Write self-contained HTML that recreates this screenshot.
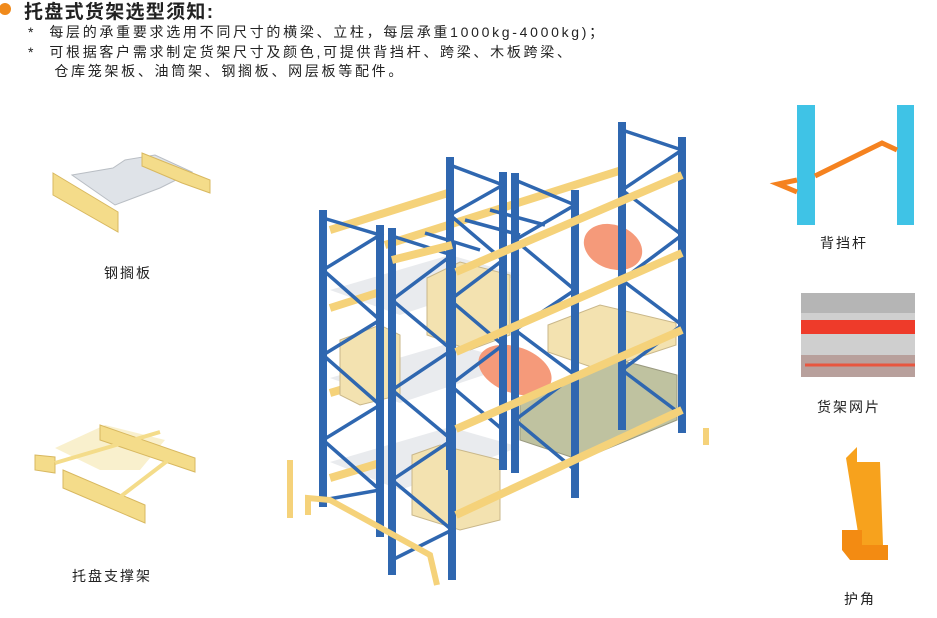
<!DOCTYPE html>
<html><head><meta charset="utf-8"><style>
body{margin:0;width:937px;height:618px;background:#fff;overflow:hidden;position:relative;font-family:"Liberation Sans","Noto Sans CJK SC",sans-serif;color:#222}
.t{position:absolute;white-space:nowrap}
</style></head><body>
<div class="t" style="left:-1px;top:3px;width:12px;height:12px;border-radius:50%;background:#f08a1c"></div>
<div class="t" style="left:24px;top:-3px;font-size:19px;font-weight:bold;letter-spacing:1.3px;color:#222">托盘式货架选型须知:</div>
<div class="t" style="left:28px;top:23px;font-size:14px;letter-spacing:2.7px;line-height:19.5px">*&nbsp;&nbsp;每层的承重要求选用不同尺寸的横梁、立柱，每层承重1000kg-4000kg)；<br>*&nbsp;&nbsp;可根据客户需求制定货架尺寸及颜色,可提供背挡杆、跨梁、木板跨梁、<br>&nbsp;&nbsp;&nbsp;&nbsp;仓库笼架板、油筒架、钢搁板、网层板等配件。</div>
<div class="t" style="left:104px;top:263px;font-size:14px;letter-spacing:2px">钢搁板</div>
<div class="t" style="left:72px;top:566px;font-size:14px;letter-spacing:2px">托盘支撑架</div>
<div class="t" style="left:820px;top:233px;font-size:14px;letter-spacing:2px">背挡杆</div>
<div class="t" style="left:817px;top:397px;font-size:14px;letter-spacing:2px">货架网片</div>
<div class="t" style="left:844px;top:589px;font-size:14px;letter-spacing:2px">护角</div>
<svg width="937" height="618" style="position:absolute;left:0;top:0">
<polygon points="72,175 113,168 125,160 155,155 192,172 160,188 115,205" fill="#dfe3e8" stroke="#b9bec4"/>
<polygon points="53,173 118,212 118,232 53,195" fill="#f4dc8a" stroke="#d8b860"/>
<polygon points="142,153 210,180 210,193 182,183 142,166" fill="#f4dc8a" stroke="#d8b860"/>
<polygon points="55,448 105,425 165,440 140,470 100,470" fill="#f8ecc0" opacity=".8"/>
<polygon points="35,455 55,457 55,473 35,470" fill="#f4dc8a" stroke="#d8b860"/>
<polygon points="63,470 145,505 145,523 63,488" fill="#f4dc8a" stroke="#d8b860"/>
<polygon points="100,425 195,458 195,472 100,440" fill="#f4dc8a" stroke="#d8b860"/>
<line x1="55" y1="463" x2="160" y2="432" stroke="#f4dc8a" stroke-width="4"/>
<line x1="120" y1="497" x2="175" y2="455" stroke="#f4dc8a" stroke-width="4"/>
<rect x="797" y="105" width="18" height="120" fill="#3fc3e6"/>
<rect x="897" y="105" width="17" height="120" fill="#3fc3e6"/>
<polyline points="797,180 778,184 797,192" fill="none" stroke="#f5821f" stroke-width="5"/>
<polyline points="815,176 882,143 897,150" fill="none" stroke="#f5821f" stroke-width="5"/>
<rect x="801" y="293" width="114" height="84" fill="#cfcfcf"/>
<rect x="801" y="293" width="114" height="20" fill="#b5b5b5"/>
<rect x="801" y="320" width="114" height="14" fill="#ee3b2a"/>
<rect x="801" y="355" width="114" height="22" fill="#b8a09c"/>
<line x1="805" y1="365" x2="915" y2="365" stroke="#e8563f" stroke-width="3"/>
<polygon points="846,458 857,447 857,462 880,462 883,545 860,545" fill="#f7a21d"/>
<polygon points="842,530 862,530 862,545 888,545 888,560 850,560 842,550" fill="#f38b12"/>
<g stroke-linecap="butt">
<polygon points="330,290 450,255 520,275 400,315" fill="#e3e6ea" opacity=".8"/>
<polygon points="330,378 450,343 520,363 400,403" fill="#e3e6ea" opacity=".8"/>
<polygon points="330,462 450,427 520,447 400,490" fill="#e3e6ea" opacity=".8"/>
<g stroke="#f5d27a" stroke-width="8">
<line x1="330" y1="230" x2="448" y2="193"/>
<line x1="385" y1="245" x2="622" y2="170"/>
<line x1="330" y1="308" x2="380" y2="292"/>
<line x1="330" y1="393" x2="380" y2="378"/>
<line x1="330" y1="478" x2="380" y2="463"/>
</g>
<polygon points="427,278 460,262 510,275 510,335 470,350 427,335" fill="#f3e2b0" stroke="#c9b78a"/>
<polygon points="340,340 380,325 400,335 400,395 360,405 340,395" fill="#f3e2b0" stroke="#c9b78a"/>
<polygon points="412,455 440,445 500,460 500,520 460,530 412,515" fill="#f3e2b0" stroke="#c9b78a"/>
<polygon points="548,325 600,305 676,323 676,345 600,370 548,352" fill="#f3e2b0" stroke="#c9b78a"/>
<polygon points="520,400 620,360 677,375 677,420 580,460 520,440" fill="#bfc2a0" stroke="#9a9a80"/>
<ellipse cx="613" cy="247" rx="30" ry="22" fill="#f59a7a" transform="rotate(20 613 247)"/>
<ellipse cx="515" cy="370" rx="38" ry="23" fill="#f59a7a" transform="rotate(20 515 370)"/>
<g stroke="#2f67b0" stroke-width="8">
<line x1="450" y1="157" x2="450" y2="470"/>
<line x1="503" y1="172" x2="503" y2="470"/>
<line x1="622" y1="122" x2="622" y2="430"/>
<line x1="682" y1="137" x2="682" y2="433"/>
<line x1="515" y1="173" x2="515" y2="473"/>
<line x1="575" y1="190" x2="575" y2="498"/>
<line x1="323" y1="210" x2="323" y2="507"/>
<line x1="380" y1="225" x2="380" y2="537"/>
<line x1="392" y1="228" x2="392" y2="575"/>
<line x1="452" y1="243" x2="452" y2="580"/>
</g>
<g stroke="#2f67b0" stroke-width="3.5" fill="none">
<polyline points="450,165 503,185 450,215 503,260 450,300 503,345 450,385 503,430"/>
<polyline points="622,130 682,150 622,190 682,235 622,280 682,325 622,370 682,415"/>
<polyline points="515,180 575,205 515,240 575,290 515,330 575,375 515,420 575,470"/>
<polyline points="323,218 380,235 323,270 380,320 323,355 380,405 323,440 380,490 323,500"/>
<polyline points="392,236 452,255 392,300 452,350 392,390 452,440 392,480 452,530 392,560"/>
<line x1="425" y1="233" x2="480" y2="250"/><line x1="465" y1="220" x2="520" y2="235"/><line x1="490" y1="210" x2="545" y2="225"/>
</g>
<g stroke="#f5d27a" stroke-width="8">
<line x1="456" y1="272" x2="682" y2="175"/>
<line x1="456" y1="352" x2="682" y2="253"/>
<line x1="456" y1="429" x2="682" y2="330"/>
<line x1="456" y1="515" x2="682" y2="410"/>
<line x1="392" y1="260" x2="452" y2="245"/>
</g>
<g stroke="#f5d27a" stroke-width="6" fill="none">
<polyline points="308,515 308,498 330,500 430,555 437,585"/>
<line x1="290" y1="460" x2="290" y2="518"/>
<line x1="706" y1="428" x2="706" y2="445"/>
</g>
</g>
</svg>
</body></html>
